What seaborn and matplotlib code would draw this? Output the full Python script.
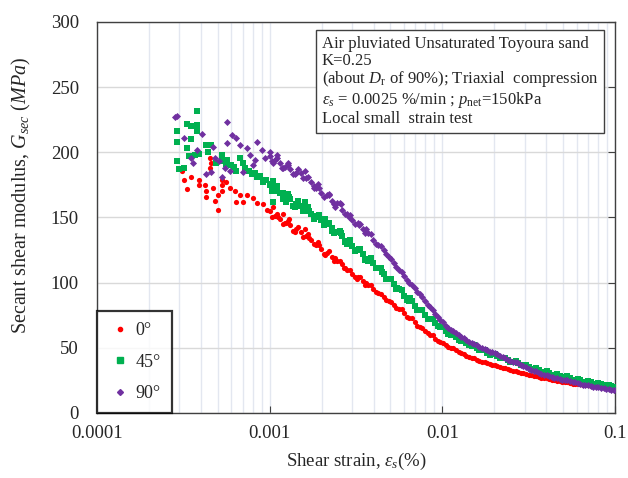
import matplotlib
matplotlib.use("Agg")
import matplotlib.pyplot as plt
import seaborn as sns
import pandas as pd
from matplotlib.lines import Line2D
from matplotlib.ticker import LogLocator, FixedLocator, NullFormatter, FixedFormatter

# ---------------- data ----------------
strain_grid = [0.001000, 0.001072, 0.001148, 0.001230, 0.001318, 0.001413, 0.001514, 0.001622,
               0.001738, 0.001862, 0.001995, 0.002138, 0.002291, 0.002455, 0.002630, 0.002818,
               0.003020, 0.003236, 0.003467, 0.003715, 0.003981, 0.004266, 0.004571, 0.004898,
               0.005248, 0.005623, 0.006026, 0.006457, 0.006918, 0.007413, 0.007943, 0.008511,
               0.009120, 0.009772, 0.01047, 0.01122, 0.01202, 0.01288, 0.01380, 0.01479,
               0.01585, 0.01698, 0.01820, 0.01950, 0.02089, 0.02239, 0.02399, 0.02570,
               0.02754, 0.02951, 0.03162, 0.03388, 0.03631, 0.03890, 0.04169, 0.04467,
               0.04786, 0.05129, 0.05495, 0.05888, 0.06310, 0.06761, 0.07244, 0.07762,
               0.08318, 0.08913, 0.09550, 0.09950]

strain_grid_b = [0.001035, 0.001110, 0.001189, 0.001274, 0.001365, 0.001462, 0.001567, 0.001679,
                 0.001799, 0.001928, 0.002065, 0.002213, 0.002371, 0.002541, 0.002723, 0.002917,
                 0.003126, 0.003350, 0.003589, 0.003846, 0.004121, 0.004416, 0.004732, 0.005070,
                 0.005433, 0.005821, 0.006237, 0.006683, 0.007161, 0.007674, 0.008222, 0.008810,
                 0.009441, 0.01012, 0.01084, 0.01161, 0.01245, 0.01334, 0.01429, 0.01531,
                 0.01641, 0.01758, 0.01884, 0.02018, 0.02163, 0.02317, 0.02483, 0.02661,
                 0.02851, 0.03055, 0.03273, 0.03508, 0.03758, 0.04027, 0.04315, 0.04624,
                 0.04954, 0.05309, 0.05689, 0.06095, 0.06531, 0.06998, 0.07499, 0.08035,
                 0.08610, 0.09226, 0.09885]

g0_main = [155, 151, 149, 146, 144, 141, 139, 136, 133, 129,
           126, 123, 120, 117, 114, 110, 107, 104, 101, 98,
           95, 92, 89, 86, 83, 80, 77, 73, 70, 66,
           63, 60, 57, 54.5, 52, 50, 48, 46, 44, 42.5,
           41, 39.5, 38.5, 37, 36, 34.5, 33.5, 32.5, 31.5, 30.5,
           29.5, 28.5, 27.5, 26.5, 26, 25, 24.5, 24, 23, 22.5,
           22, 21.5, 21, 20.5, 20, 19.5, 19, 18.5]
g0_main_b = [150, 153, 145, 147, 140, 143, 135, 137, 130, 129,
             122, 124, 117, 117, 111, 110, 104, 104, 98, 98,
             92.5, 91.5, 86.5, 85.5, 80.5, 79.5, 74, 72.5, 67, 65.5,
             61, 59.5, 55, 54, 50.5, 49.5, 46.5, 45.5, 43, 42.2,
             40, 39.3, 37.5, 36.8, 35, 34.3, 32.8, 32.2, 30.8, 30.2,
             28.8, 28.2, 26.8, 26.5, 25.3, 24.9, 24, 23.7, 22.6, 22.4,
             21.6, 21.4, 20.6, 20.4, 19.6, 19.4, 18.7]

g45_main = [175, 171, 169, 165, 164, 160, 159, 157, 153, 151,
            148, 145, 142, 139, 136, 132, 128, 125, 122, 118,
            115, 111, 107, 103, 99, 95, 90, 86, 82, 79,
            75, 72, 69, 66, 63, 60, 58, 55.5, 53.5, 51.5,
            49.5, 48, 46, 45, 43.5, 42, 40.5, 39, 38, 36.5,
            35, 34, 33, 31.5, 30.5, 29.5, 28.5, 27.5, 26.5, 25.5,
            25, 24, 23.5, 22.5, 22, 21, 20.5, 20]
g45_main_b = [170, 174, 164, 168, 159, 163, 155, 158, 149, 152,
              144, 146, 138, 140, 131.5, 133, 124.5, 126, 117.5, 119,
              111, 111, 103, 103, 95, 94.5, 86.5, 86, 79, 79,
              72, 72, 66.5, 66, 60.5, 60.5, 55.8, 55.8, 51.8, 51.8,
              48, 48.2, 44.8, 45.5, 42, 42.5, 39, 39.8, 36.5, 37,
              34, 34.7, 31.8, 32, 29.5, 30, 27.5, 28, 25.6, 26,
              24, 24.4, 22.6, 23, 21.2, 21.5, 20]

g90_main = [197, 194, 192, 189, 187, 184, 184, 180, 177, 173,
            169, 167, 163, 161, 156, 153, 148, 146, 141, 138,
            133, 129, 125, 120, 115, 110, 105, 100, 96, 91,
            86, 81, 76, 71, 67, 64, 61, 58.5, 56, 54,
            52, 50, 48, 46.5, 45, 43, 41, 39.5, 38, 36,
            34, 32.5, 31, 29.5, 28, 27, 26, 25, 24.5, 23.5,
            22.5, 21.5, 21, 20, 19.5, 18.5, 18, 17.5]
g90_main_b = [193, 196, 188, 190, 183, 187, 180, 181, 173, 173,
              166, 167, 160, 161, 153, 152, 145, 145, 138, 137,
              130, 128, 122, 118.5, 112, 108.5, 102, 98.5, 93, 89,
              83, 79, 73.5, 69.5, 65.5, 63, 59.5, 57.5, 54.8, 53.3,
              51, 49.3, 47, 46, 44, 42.3, 40, 39, 37, 35.3,
              33, 32, 30, 29, 27.3, 26.7, 25.3, 25, 23.8, 23.2,
              21.8, 21.4, 20.3, 20, 18.8, 18.5, 17.6]

strain0_scatter = [0.00032, 0.00035, 0.00045, 0.00046, 0.00045, 0.00039, 0.00039, 0.00042, 0.00043, 0.00043,
                   0.00047, 0.00048, 0.00050, 0.00053, 0.00053, 0.00056, 0.00059, 0.00063, 0.00067, 0.00064,
                   0.00070, 0.00074, 0.00080, 0.00084, 0.00091, 0.00096, 0.00050, 0.00053, 0.00031, 0.00033,
                   0.00105, 0.00112, 0.0012, 0.00125, 0.0013, 0.0014, 0.0016, 0.0017, 0.0019, 0.0021,
                   0.0024, 0.0027, 0.0032, 0.0036]
g0_scatter = [179, 181, 196, 192, 188, 179, 175, 175, 170, 166,
              173, 163, 156, 179, 175, 177, 173, 170, 167, 162,
              162, 167, 165, 161, 160, 156, 167, 170, 186, 172,
              158, 150, 153, 146, 149, 139, 141, 134, 131, 121,
              119, 111, 103, 100]

strain45_scatter = [0.00038, 0.00033, 0.00035, 0.00038, 0.00038, 0.00029, 0.00035, 0.00029, 0.00033, 0.00043,
                    0.00046, 0.00029, 0.00030, 0.00032, 0.00034, 0.00037, 0.00039, 0.00044, 0.00049, 0.00053,
                    0.00053, 0.00057, 0.00060, 0.00064, 0.00067, 0.00070, 0.00079, 0.00085, 0.00091, 0.00102,
                    0.00104, 0.00072, 0.00076, 0.00082, 0.00088, 0.00095, 0.00062, 0.00056,
                    0.00105, 0.0011, 0.0012, 0.00125, 0.0013, 0.0014, 0.0016, 0.0017, 0.0019, 0.0021,
                    0.0023, 0.0026, 0.0028, 0.0033, 0.0037, 0.0045, 0.0055, 0.0065]
g45_scatter = [232, 222, 220, 221, 216, 216, 210, 208, 203, 206,
               206, 193, 187, 188, 197, 198, 199, 200, 192, 198,
               193, 194, 190, 186, 196, 192, 183, 181, 177, 176,
               162, 188, 186, 184, 182, 179, 189, 191,
               178, 170, 169, 162, 166, 158, 162, 155, 150, 149,
               140, 138, 130, 126, 117, 108, 96, 88]

strain90_scatter = [0.000283, 0.000290, 0.000318, 0.000404, 0.000565, 0.000603, 0.00057, 0.00064, 0.00067, 0.00035,
                    0.00038, 0.00047, 0.00048, 0.00036, 0.00043, 0.00046, 0.00051, 0.00055, 0.00053, 0.00059,
                    0.00074, 0.00077, 0.00082, 0.00085, 0.00090, 0.00094, 0.00100, 0.00070, 0.00080,
                    0.00105, 0.0011, 0.00118, 0.00127, 0.0014, 0.0016, 0.0018, 0.0019, 0.0022, 0.0024,
                    0.0026, 0.0029, 0.0033, 0.0036]
g90_scatter = [227, 228, 211, 214, 223, 213, 207, 211, 206, 196,
               202, 204, 196, 192, 183, 185, 193, 188, 181, 186,
               203, 198, 194, 208, 202, 196, 200, 185, 190,
               192, 198, 188, 192, 183, 186, 174, 176, 168, 158,
               160, 150, 144, 141]

series_labels = ["0°", "45°", "90°"]
x_tick_values = [0.0001, 0.001, 0.01, 0.1]
x_tick_labels = ["0.0001", "0.001", "0.01", "0.1"]
y_tick_values = [0, 50, 100, 150, 200, 250, 300]

# ---------------- style ----------------
sns.set_style("white")
plt.rcParams["font.family"] = ["Liberation Serif", "DejaVu Serif"]
plt.rcParams["mathtext.fontset"] = "custom"
plt.rcParams["mathtext.rm"] = "Liberation Serif"
plt.rcParams["mathtext.it"] = "Liberation Serif:italic"
plt.rcParams["mathtext.bf"] = "Liberation Serif:bold"

colors = ["#FF0000", "#00B050", "#7030A0"]

fig = plt.figure(figsize=(6.28, 4.78), dpi=100)
ax = fig.add_axes([0.1545, 0.136, 0.8245, 0.818])

df0 = pd.DataFrame({"strain": strain0_scatter + strain_grid + strain_grid_b,
                    "G": g0_scatter + g0_main + g0_main_b})
df45 = pd.DataFrame({"strain": strain45_scatter + strain_grid + strain_grid_b,
                     "G": g45_scatter + g45_main + g45_main_b})
df90 = pd.DataFrame({"strain": strain90_scatter + strain_grid + strain_grid_b,
                     "G": g90_scatter + g90_main + g90_main_b})

sns.scatterplot(data=df0, x="strain", y="G", color=colors[0], marker="o", s=14,
                linewidth=0, ax=ax, legend=False, zorder=3)
sns.scatterplot(data=df45, x="strain", y="G", color=colors[1], marker="s", s=25,
                linewidth=0, ax=ax, legend=False, zorder=4)
sns.scatterplot(data=df90, x="strain", y="G", color=colors[2], marker="D", s=13,
                linewidth=0, ax=ax, legend=False, zorder=5)

ax.set_xscale("log")
ax.set_xlim(0.0001, 0.1)
ax.set_ylim(0, 300)
ax.xaxis.set_major_locator(FixedLocator(x_tick_values))
ax.xaxis.set_major_formatter(FixedFormatter(x_tick_labels))
ax.xaxis.set_minor_locator(LogLocator(base=10, subs=[2, 3, 4, 5, 6, 7, 8, 9]))
ax.xaxis.set_minor_formatter(NullFormatter())
ax.set_yticks(y_tick_values)

ax.set_axisbelow(True)
ax.grid(axis="y", which="major", color="#d9d9d9", lw=1.0)
ax.grid(axis="x", which="both", color="#e3e7f0", lw=1.0)

for sp in ax.spines.values():
    sp.set_color("#404040")
    sp.set_linewidth(1.0)
    sp.set_visible(True)

ax.tick_params(axis="x", which="major", direction="in", length=5, bottom=True, top=False,
               labelsize=13.5, pad=9, color="#404040")
ax.tick_params(axis="x", which="minor", length=0)
ax.tick_params(axis="y", which="major", direction="in", length=5, left=False, right=True,
               labelsize=13.5, pad=13, color="#404040")

ax.set_xlabel("Shear strain, $\\varepsilon_s$(%)", fontsize=13.5, labelpad=6)
ax.set_ylabel("Secant shear modulus, $G_{sec}$ $(MPa)$", fontsize=14.5)
ax.yaxis.set_label_coords(-0.124, 0.557)

info = ("Air pluviated Unsaturated Toyoura sand\n"
        "K=0.25\n"
        "(about $D_\\mathrm{r}$ of 90%); Triaxial  compression\n"
        "$\\varepsilon_s$ = 0.0025 %/min ; $p_\\mathrm{net}$=150kPa\n"
        "Local small  strain test")
ax.text(0.434, 0.965, info, transform=ax.transAxes, ha="left", va="top", fontsize=12,
        linespacing=1.07, zorder=10,
        bbox=dict(boxstyle="square,pad=0.35", fc="white", ec="#404040", lw=1.0))

handles = [Line2D([], [], ls="", marker="o", color=colors[0], ms=3),
           Line2D([], [], ls="", marker="s", color=colors[1], ms=4.5),
           Line2D([], [], ls="", marker="D", color=colors[2], ms=3)]
leg = ax.legend(handles, series_labels, loc="lower left", bbox_to_anchor=(0, 0),
                borderaxespad=0, frameon=True, fancybox=False, edgecolor="black",
                fontsize=13, labelspacing=0.8, handlelength=1.3, handletextpad=0.25,
                borderpad=0.6)
leg.get_frame().set_linewidth(1.6)
leg.set_zorder(10)

fig.savefig("out.png", dpi=100)
